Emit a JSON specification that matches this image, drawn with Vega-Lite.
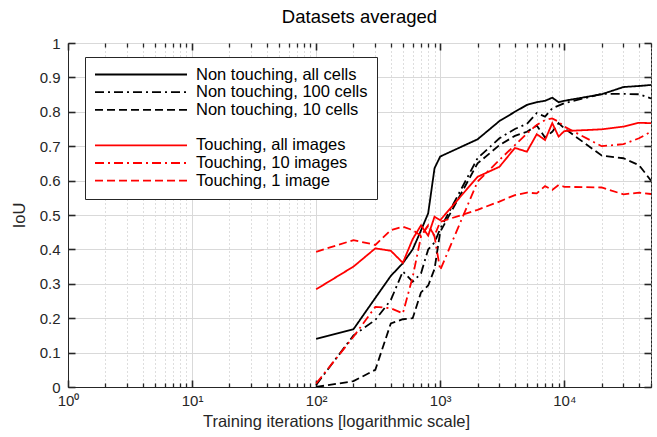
{
  "$schema": "https://vega.github.io/schema/vega-lite/v6.json",
  "width": 583,
  "height": 344,
  "autosize": "none",
  "padding": {"left": 68, "top": 43, "right": 6, "bottom": 50},
  "title": {"text": "Datasets averaged", "fontSize": 18.5, "fontWeight": "normal", "font": "Liberation Sans", "color": "#000000", "offset": 10, "anchor": "middle"},
  "config": {
    "font": "Liberation Sans",
    "view": {"stroke": "#262626", "strokeWidth": 1},
    "legend": {
      "orient": "none", "legendX": 17, "legendY": 14, "direction": "vertical",
      "symbolType": "stroke", "symbolSize": 8464, "symbolStrokeWidth": 1.8,
      "labelFontSize": 16.5, "labelFont": "Liberation Sans", "labelColor": "#000000",
      "fillColor": "white", "strokeColor": "#262626", "padding": 9,
      "clipHeight": 17, "rowPadding": 0.7, "labelOffset": 8, "labelLimit": 400
    }
  },
  "data": {"values": [
    {"s": "Non touching, all cells", "x": 100, "y": 0.14},
    {"s": "Non touching, all cells", "x": 200, "y": 0.168},
    {"s": "Non touching, all cells", "x": 300, "y": 0.259},
    {"s": "Non touching, all cells", "x": 400, "y": 0.323},
    {"s": "Non touching, all cells", "x": 500, "y": 0.36},
    {"s": "Non touching, all cells", "x": 600, "y": 0.40},
    {"s": "Non touching, all cells", "x": 700, "y": 0.455},
    {"s": "Non touching, all cells", "x": 800, "y": 0.505},
    {"s": "Non touching, all cells", "x": 900, "y": 0.636},
    {"s": "Non touching, all cells", "x": 1000, "y": 0.67},
    {"s": "Non touching, all cells", "x": 2000, "y": 0.72},
    {"s": "Non touching, all cells", "x": 3000, "y": 0.773},
    {"s": "Non touching, all cells", "x": 4000, "y": 0.80},
    {"s": "Non touching, all cells", "x": 5000, "y": 0.82},
    {"s": "Non touching, all cells", "x": 6000, "y": 0.828},
    {"s": "Non touching, all cells", "x": 7000, "y": 0.832},
    {"s": "Non touching, all cells", "x": 8000, "y": 0.841},
    {"s": "Non touching, all cells", "x": 9000, "y": 0.828},
    {"s": "Non touching, all cells", "x": 10000, "y": 0.832},
    {"s": "Non touching, all cells", "x": 20000, "y": 0.851},
    {"s": "Non touching, all cells", "x": 30000, "y": 0.872},
    {"s": "Non touching, all cells", "x": 40000, "y": 0.875},
    {"s": "Non touching, all cells", "x": 50000, "y": 0.878},

    {"s": "Non touching, 100 cells", "x": 100, "y": 0.006},
    {"s": "Non touching, 100 cells", "x": 200, "y": 0.15},
    {"s": "Non touching, 100 cells", "x": 300, "y": 0.195},
    {"s": "Non touching, 100 cells", "x": 400, "y": 0.253},
    {"s": "Non touching, 100 cells", "x": 500, "y": 0.336},
    {"s": "Non touching, 100 cells", "x": 600, "y": 0.306},
    {"s": "Non touching, 100 cells", "x": 700, "y": 0.33},
    {"s": "Non touching, 100 cells", "x": 800, "y": 0.40},
    {"s": "Non touching, 100 cells", "x": 900, "y": 0.42},
    {"s": "Non touching, 100 cells", "x": 1000, "y": 0.46},
    {"s": "Non touching, 100 cells", "x": 2000, "y": 0.665},
    {"s": "Non touching, 100 cells", "x": 3000, "y": 0.723},
    {"s": "Non touching, 100 cells", "x": 4000, "y": 0.75},
    {"s": "Non touching, 100 cells", "x": 5000, "y": 0.765},
    {"s": "Non touching, 100 cells", "x": 6000, "y": 0.796},
    {"s": "Non touching, 100 cells", "x": 7000, "y": 0.786},
    {"s": "Non touching, 100 cells", "x": 8000, "y": 0.81},
    {"s": "Non touching, 100 cells", "x": 9000, "y": 0.818},
    {"s": "Non touching, 100 cells", "x": 10000, "y": 0.825},
    {"s": "Non touching, 100 cells", "x": 20000, "y": 0.852},
    {"s": "Non touching, 100 cells", "x": 30000, "y": 0.852},
    {"s": "Non touching, 100 cells", "x": 40000, "y": 0.851},
    {"s": "Non touching, 100 cells", "x": 50000, "y": 0.839},

    {"s": "Non touching, 10 cells", "x": 100, "y": 0.0},
    {"s": "Non touching, 10 cells", "x": 200, "y": 0.017},
    {"s": "Non touching, 10 cells", "x": 300, "y": 0.05},
    {"s": "Non touching, 10 cells", "x": 400, "y": 0.185},
    {"s": "Non touching, 10 cells", "x": 500, "y": 0.197},
    {"s": "Non touching, 10 cells", "x": 600, "y": 0.2},
    {"s": "Non touching, 10 cells", "x": 700, "y": 0.275},
    {"s": "Non touching, 10 cells", "x": 800, "y": 0.295},
    {"s": "Non touching, 10 cells", "x": 900, "y": 0.343},
    {"s": "Non touching, 10 cells", "x": 1000, "y": 0.451},
    {"s": "Non touching, 10 cells", "x": 2000, "y": 0.65},
    {"s": "Non touching, 10 cells", "x": 3000, "y": 0.703},
    {"s": "Non touching, 10 cells", "x": 4000, "y": 0.73},
    {"s": "Non touching, 10 cells", "x": 5000, "y": 0.742},
    {"s": "Non touching, 10 cells", "x": 6000, "y": 0.76},
    {"s": "Non touching, 10 cells", "x": 7000, "y": 0.725},
    {"s": "Non touching, 10 cells", "x": 8000, "y": 0.742},
    {"s": "Non touching, 10 cells", "x": 9000, "y": 0.767},
    {"s": "Non touching, 10 cells", "x": 10000, "y": 0.752},
    {"s": "Non touching, 10 cells", "x": 20000, "y": 0.673},
    {"s": "Non touching, 10 cells", "x": 30000, "y": 0.665},
    {"s": "Non touching, 10 cells", "x": 40000, "y": 0.645},
    {"s": "Non touching, 10 cells", "x": 50000, "y": 0.6},

    {"s": "Touching, all images", "x": 100, "y": 0.284},
    {"s": "Touching, all images", "x": 200, "y": 0.35},
    {"s": "Touching, all images", "x": 300, "y": 0.403},
    {"s": "Touching, all images", "x": 400, "y": 0.396},
    {"s": "Touching, all images", "x": 500, "y": 0.361},
    {"s": "Touching, all images", "x": 600, "y": 0.43},
    {"s": "Touching, all images", "x": 700, "y": 0.47},
    {"s": "Touching, all images", "x": 800, "y": 0.44},
    {"s": "Touching, all images", "x": 900, "y": 0.495},
    {"s": "Touching, all images", "x": 1000, "y": 0.485},
    {"s": "Touching, all images", "x": 2000, "y": 0.611},
    {"s": "Touching, all images", "x": 3000, "y": 0.64},
    {"s": "Touching, all images", "x": 4000, "y": 0.695},
    {"s": "Touching, all images", "x": 5000, "y": 0.684},
    {"s": "Touching, all images", "x": 6000, "y": 0.735},
    {"s": "Touching, all images", "x": 7000, "y": 0.718},
    {"s": "Touching, all images", "x": 8000, "y": 0.767},
    {"s": "Touching, all images", "x": 9000, "y": 0.728},
    {"s": "Touching, all images", "x": 10000, "y": 0.744},
    {"s": "Touching, all images", "x": 20000, "y": 0.749},
    {"s": "Touching, all images", "x": 30000, "y": 0.757},
    {"s": "Touching, all images", "x": 40000, "y": 0.768},
    {"s": "Touching, all images", "x": 50000, "y": 0.767},

    {"s": "Touching, 10 images", "x": 100, "y": 0.01},
    {"s": "Touching, 10 images", "x": 200, "y": 0.146},
    {"s": "Touching, 10 images", "x": 300, "y": 0.233},
    {"s": "Touching, 10 images", "x": 400, "y": 0.229},
    {"s": "Touching, 10 images", "x": 500, "y": 0.214},
    {"s": "Touching, 10 images", "x": 600, "y": 0.32},
    {"s": "Touching, 10 images", "x": 700, "y": 0.437},
    {"s": "Touching, 10 images", "x": 800, "y": 0.47},
    {"s": "Touching, 10 images", "x": 900, "y": 0.437},
    {"s": "Touching, 10 images", "x": 1000, "y": 0.34},
    {"s": "Touching, 10 images", "x": 2000, "y": 0.597},
    {"s": "Touching, 10 images", "x": 3000, "y": 0.66},
    {"s": "Touching, 10 images", "x": 4000, "y": 0.703},
    {"s": "Touching, 10 images", "x": 5000, "y": 0.737},
    {"s": "Touching, 10 images", "x": 6000, "y": 0.762},
    {"s": "Touching, 10 images", "x": 7000, "y": 0.776},
    {"s": "Touching, 10 images", "x": 8000, "y": 0.781},
    {"s": "Touching, 10 images", "x": 9000, "y": 0.771},
    {"s": "Touching, 10 images", "x": 10000, "y": 0.757},
    {"s": "Touching, 10 images", "x": 20000, "y": 0.70},
    {"s": "Touching, 10 images", "x": 30000, "y": 0.706},
    {"s": "Touching, 10 images", "x": 40000, "y": 0.723},
    {"s": "Touching, 10 images", "x": 50000, "y": 0.742},

    {"s": "Touching, 1 image", "x": 100, "y": 0.393},
    {"s": "Touching, 1 image", "x": 200, "y": 0.427},
    {"s": "Touching, 1 image", "x": 300, "y": 0.413},
    {"s": "Touching, 1 image", "x": 400, "y": 0.456},
    {"s": "Touching, 1 image", "x": 500, "y": 0.466},
    {"s": "Touching, 1 image", "x": 600, "y": 0.456},
    {"s": "Touching, 1 image", "x": 700, "y": 0.44},
    {"s": "Touching, 1 image", "x": 800, "y": 0.47},
    {"s": "Touching, 1 image", "x": 900, "y": 0.44},
    {"s": "Touching, 1 image", "x": 1000, "y": 0.48},
    {"s": "Touching, 1 image", "x": 2000, "y": 0.515},
    {"s": "Touching, 1 image", "x": 3000, "y": 0.539},
    {"s": "Touching, 1 image", "x": 4000, "y": 0.558},
    {"s": "Touching, 1 image", "x": 5000, "y": 0.565},
    {"s": "Touching, 1 image", "x": 6000, "y": 0.563},
    {"s": "Touching, 1 image", "x": 7000, "y": 0.584},
    {"s": "Touching, 1 image", "x": 8000, "y": 0.573},
    {"s": "Touching, 1 image", "x": 9000, "y": 0.587},
    {"s": "Touching, 1 image", "x": 10000, "y": 0.582},
    {"s": "Touching, 1 image", "x": 20000, "y": 0.58},
    {"s": "Touching, 1 image", "x": 30000, "y": 0.56},
    {"s": "Touching, 1 image", "x": 40000, "y": 0.565},
    {"s": "Touching, 1 image", "x": 50000, "y": 0.561}
  ]},
  "resolve": {"axis": {"x": "independent", "y": "independent"}},
  "layer": [
    {
      "mark": {"type": "line", "strokeWidth": 1.8, "clip": true},
      "encoding": {
        "x": {
          "field": "x", "type": "quantitative",
          "scale": {"type": "log", "domain": [1, 50000], "nice": false},
          "axis": {
            "orient": "bottom",
            "values": [1,2,3,4,5,6,7,8,9,10,20,30,40,50,60,70,80,90,100,200,300,400,500,600,700,800,900,1000,2000,3000,4000,5000,6000,7000,8000,9000,10000,20000,30000,40000,50000],
            "labelExpr": "abs(log(datum.value)/LN10 - round(log(datum.value)/LN10)) < 0.000001 ? '10' + ['⁰','¹','²','³','⁴'][round(log(datum.value)/LN10)] : ''",
            "labelOverlap": false, "labelFlush": false,
            "labelFontSize": 15, "labelColor": "#262626", "labelPadding": 6,
            "grid": true,
            "gridDash": {"condition": {"test": "abs(log(datum.value)/LN10 - round(log(datum.value)/LN10)) < 0.000001", "value": []}, "value": [1, 3]},
            "gridColor": {"condition": {"test": "abs(log(datum.value)/LN10 - round(log(datum.value)/LN10)) < 0.000001", "value": "#d9d9d9"}, "value": "#bdbdbd"},
            "ticks": false,
            "domainColor": "#262626",
            "title": "Training iterations [logarithmic scale]",
            "titleX": 268,
            "titleFontSize": 16.5, "titleFontWeight": "normal", "titleColor": "#262626", "titlePadding": 5
          }
        },
        "y": {
          "field": "y", "type": "quantitative",
          "scale": {"domain": [0, 1], "nice": false},
          "axis": {
            "orient": "left",
            "values": [0, 0.1, 0.2, 0.3, 0.4, 0.5, 0.6, 0.7, 0.8, 0.9, 1],
            "format": "~g",
            "labelFontSize": 15, "labelColor": "#262626", "labelPadding": 8,
            "ticks": false, "domainColor": "#262626",
            "grid": true, "gridColor": "#d9d9d9",
            "title": "IoU", "titleFontSize": 16.5, "titleFontWeight": "normal", "titleColor": "#262626", "titlePadding": 12
          }
        },
        "color": {
          "field": "s", "type": "nominal",
          "scale": {
            "domain": ["Non touching, all cells", "Non touching, 100 cells", "Non touching, 10 cells", " ", "Touching, all images", "Touching, 10 images", "Touching, 1 image"],
            "range": ["#000000", "#000000", "#000000", "transparent", "#ff0000", "#ff0000", "#ff0000"]
          },
          "legend": {"title": null}
        },
        "strokeDash": {
          "field": "s", "type": "nominal",
          "scale": {
            "domain": ["Non touching, all cells", "Non touching, 100 cells", "Non touching, 10 cells", " ", "Touching, all images", "Touching, 10 images", "Touching, 1 image"],
            "range": [[1, 0], [9, 4, 2, 4], [8, 4], [1, 0], [1, 0], [9, 4, 2, 4], [8, 4]]
          },
          "legend": {"title": null}
        }
      }
    },
    {
      "mark": {"type": "line", "opacity": 0},
      "encoding": {
        "x": {
          "field": "x", "type": "quantitative",
          "axis": {
            "orient": "top", "offset": -344,
            "values": [1, 10, 100, 1000, 10000],
            "labels": false, "grid": false, "domain": false, "title": null, "ticks": true,
            "tickSize": 7, "tickColor": "#262626", "tickWidth": 1.6
          }
        },
        "y": {
          "field": "y", "type": "quantitative",
          "axis": {
            "orient": "right", "offset": -583,
            "values": [0, 0.1, 0.2, 0.3, 0.4, 0.5, 0.6, 0.7, 0.8, 0.9, 1],
            "labels": false, "grid": false, "domain": false, "title": null, "ticks": true,
            "tickSize": 7, "tickColor": "#262626", "tickWidth": 1.6
          }
        }
      }
    },
    {
      "mark": {"type": "line", "opacity": 0},
      "encoding": {
        "x": {
          "field": "x", "type": "quantitative",
          "axis": {
            "orient": "bottom", "offset": -344,
            "values": [1, 10, 100, 1000, 10000],
            "labels": false, "grid": false, "domain": false, "title": null, "ticks": true,
            "tickSize": 7, "tickColor": "#262626", "tickWidth": 1.6
          }
        },
        "y": {
          "field": "y", "type": "quantitative",
          "axis": {
            "orient": "left", "offset": -583,
            "values": [0, 0.1, 0.2, 0.3, 0.4, 0.5, 0.6, 0.7, 0.8, 0.9, 1],
            "labels": false, "grid": false, "domain": false, "title": null, "ticks": true,
            "tickSize": 7, "tickColor": "#262626", "tickWidth": 1.6
          }
        }
      }
    },
    {
      "mark": {"type": "line", "opacity": 0},
      "encoding": {
        "x": {
          "field": "x", "type": "quantitative",
          "axis": {
            "orient": "top", "offset": -344,
            "values": [2,3,4,5,6,7,8,9,20,30,40,50,60,70,80,90,200,300,400,500,600,700,800,900,2000,3000,4000,5000,6000,7000,8000,9000,20000,30000,40000,50000],
            "labels": false, "grid": false, "domain": false, "title": null, "ticks": true,
            "tickSize": 4, "tickColor": "#262626", "tickWidth": 1.3
          }
        },
        "y": {"field": "y", "type": "quantitative", "axis": null}
      }
    },
    {
      "mark": {"type": "line", "opacity": 0},
      "encoding": {
        "x": {
          "field": "x", "type": "quantitative",
          "axis": {
            "orient": "bottom", "offset": -344,
            "values": [2,3,4,5,6,7,8,9,20,30,40,50,60,70,80,90,200,300,400,500,600,700,800,900,2000,3000,4000,5000,6000,7000,8000,9000,20000,30000,40000,50000],
            "labels": false, "grid": false, "domain": false, "title": null, "ticks": true,
            "tickSize": 4, "tickColor": "#262626", "tickWidth": 1.3
          }
        },
        "y": {"field": "y", "type": "quantitative", "axis": null}
      }
    }
  ]
}
